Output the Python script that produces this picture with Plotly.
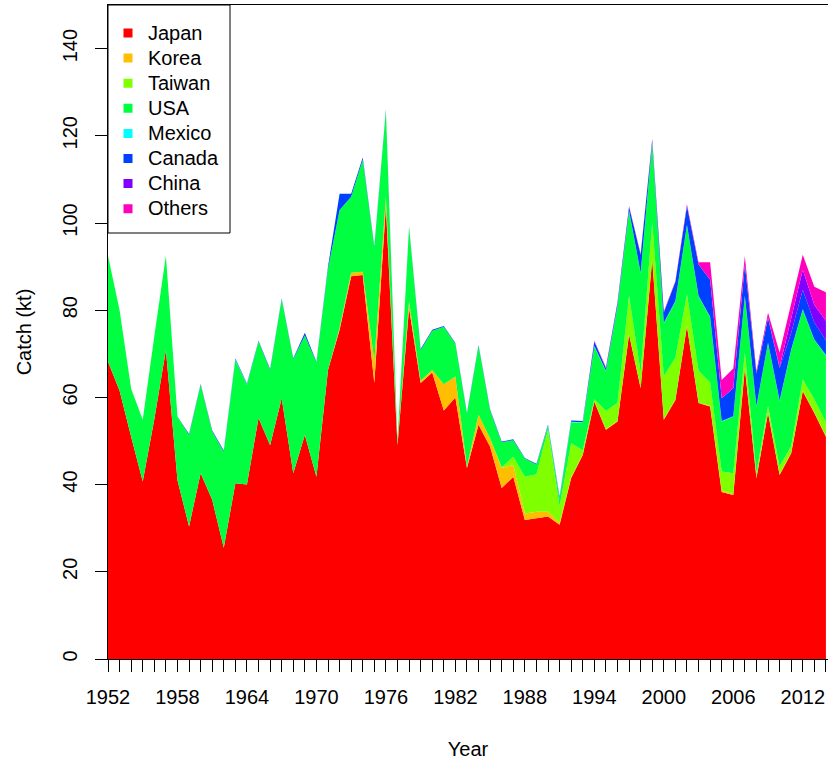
import plotly.graph_objects as go

years = list(range(1952, 2015))

japan = [68.2, 61.5, 51.0, 40.7, 55.0, 70.9, 41.0, 30.4, 42.6, 36.5,
         25.5, 40.3, 40.0, 55.3, 49.0, 59.8, 42.6, 51.4, 41.8, 66.3,
         75.5, 87.8, 88.1, 63.3, 103.8, 49.0, 80.5, 63.3, 65.7, 57.0,
         60.0, 43.8, 53.7, 48.7, 39.2, 41.8, 31.9, 32.3, 32.7, 30.8,
         41.5, 46.8, 59.0, 52.6, 54.5, 74.4, 62.1, 91.6, 54.9, 59.4,
         76.3, 58.7, 57.9, 38.3, 37.6, 66.7, 41.5, 56.4, 42.2, 47.2,
         61.4, 56.4, 51.0]

korea = [0, 0, 0, 0, 0, 0, 0, 0, 0, 0,
         0, 0, 0, 0, 0, 0, 0, 0, 0, 0,
         0.5, 0.8, 0.7, 5.0, 2.2, 0.3, 1.5, 0.5, 0.6, 6.0,
         4.8, 0.3, 2.3, 1.9, 4.6, 2.7, 1.5, 1.5, 1.1, 0.4,
         0.2, 0.1, 0.1, 0.1, 0.1, 0.1, 0.1, 0.1, 0.1, 0.1,
         0.1, 0.1, 0.1, 0.3, 0.2, 0.1, 0.1, 0.1, 0.1, 0.1,
         0.1, 0.1, 0.1]

taiwan = [0, 0, 0, 0, 0, 0, 0, 0, 0, 0,
          0, 0, 0, 0, 0, 0, 0, 0, 0, 0,
          0, 0, 0, 0, 0, 0, 0, 0, 0, 0,
          0, 0, 0, 0, 0.2, 1.9, 8.4, 8.6, 18.8, 3.8,
          7.8, 1.0, 0.5, 4.2, 4.2, 8.8, 3.5, 8.4, 9.9, 9.6,
          7.2, 7.3, 5.4, 4.4, 4.8, 3.5, 1.1, 1.5, 1.9, 1.5,
          2.6, 3.0, 3.2]

usa = [24.3, 18.5, 11.0, 14.2, 19.0, 21.6, 14.6, 21.0, 20.3, 15.7,
       22.1, 28.3, 22.9, 17.5, 17.3, 22.7, 26.2, 22.8, 26.2, 23.2,
       27.0, 17.4, 25.7, 26.0, 19.7, 0.5, 17.0, 7.0, 9.0, 13.2,
       7.5, 12.1, 15.8, 6.4, 5.7, 3.8, 4.2, 2.2, 0.8, 1.8,
       4.8, 6.3, 12.1, 9.1, 22.1, 19.4, 22.8, 18.2, 12.1, 12.9,
       15.9, 17.1, 15.0, 11.5, 13.0, 12.9, 15.2, 14.5, 15.0, 22.1,
       16.0, 13.7, 15.3]

mexico = [0, 0, 0, 0, 0, 0, 0, 0, 0, 0,
          0, 0.1, 0.1, 0, 0, 0, 0, 0, 0, 0,
          0, 0, 0, 0, 0, 0, 0, 0, 0, 0,
          0, 0, 0, 0, 0, 0, 0, 0, 0.1, 0.1,
          0.1, 0.1, 0.1, 0.1, 0.1, 0.1, 0.1, 0.1, 0.1, 0.1,
          0.1, 0.1, 0.1, 0.1, 0.1, 0.1, 0.1, 0.1, 0.1, 0.1,
          0.1, 0.1, 0.1]

canada = [0, 0, 0, 0, 0, 0, 0, 0.2, 0.2, 0.2,
          0.2, 0.2, 0.2, 0.2, 0.2, 0.2, 0.2, 0.6, 0.2, 0.5,
          3.7, 0.7, 0.5, 0.3, 0.3, 0.2, 0.2, 0.3, 0.2, 0.2,
          0.2, 0.2, 0.2, 0.2, 0.2, 0.2, 0.1, 0.2, 0.3, 0.3,
          0.3, 0.3, 1.0, 0.6, 0.7, 0.9, 4.1, 0.7, 2.4, 4.4,
          4.3, 7.2, 8.5, 5.2, 6.4, 7.1, 7.5, 5.6, 7.4, 3.8,
          4.5, 3.9, 3.4]

china = [0, 0, 0, 0, 0, 0, 0, 0, 0, 0,
         0, 0, 0, 0, 0, 0, 0, 0, 0, 0,
         0, 0, 0, 0, 0, 0, 0, 0, 0, 0,
         0, 0, 0, 0, 0, 0, 0, 0, 0, 0,
         0, 0, 0, 0, 0, 0, 0, 0, 0, 0,
         0, 0, 0, 0, 0, 0, 0, 0.1, 0.3, 3.0,
         4.6, 4.0, 4.5]

others = [0, 0, 0, 0, 0, 0, 0, 0, 0, 0,
          0, 0, 0, 0, 0, 0, 0, 0, 0, 0,
          0, 0, 0, 0, 0, 0, 0, 0, 0, 0,
          0, 0, 0, 0, 0, 0, 0, 0, 0, 0,
          0, 0, 0.2, 0.2, 0.2, 0.2, 0.2, 0.2, 0.2, 0.2,
          0.4, 0.5, 4.0, 4.2, 4.5, 2.0, 0.5, 1.1, 3.3, 3.8,
          3.4, 4.2, 6.5]

series_names = ["Japan", "Korea", "Taiwan", "USA", "Mexico", "Canada", "China", "Others"]
series_values = [japan, korea, taiwan, usa, mexico, canada, china, others]
colors = ["#FF0000", "#FFBF00", "#80FF00", "#00FF40", "#00FFFF", "#0040FF", "#8000FF", "#FF00BF"]

x_tick_labels = [str(y) for y in range(1952, 2013, 6)]
y_tick_labels = [str(v) for v in range(0, 141, 20)]

FONT = "Liberation Sans, Arial, sans-serif"

fig = go.Figure()
for name, vals, col in zip(series_names, series_values, colors):
    fig.add_trace(go.Scatter(
        x=years, y=vals, name=name, mode="lines",
        stackgroup="one", line=dict(width=0, color=col),
        fillcolor=col, showlegend=False, hoverinfo="skip"))

for name, col in zip(series_names, colors):
    fig.add_trace(go.Scatter(
        x=[None], y=[None], mode="markers",
        name="<span style='font-size:20px'>%s</span>" % name,
        marker=dict(symbol="square", size=9, color=col),
        showlegend=True, hoverinfo="skip"))

fig.update_layout(
    width=828, height=763,
    margin=dict(l=108, r=0, t=5, b=104),
    paper_bgcolor="white", plot_bgcolor="white",
    font=dict(family=FONT, size=20, color="black"),
    showlegend=True,
    legend=dict(x=0.0, y=0.984, xanchor="left", yanchor="top",
                bgcolor="rgba(0,0,0,0)", borderwidth=0,
                font=dict(family=FONT, size=17, color="black"),
                traceorder="normal"),
    xaxis=dict(range=[1952, 2014.18], showgrid=False, zeroline=False,
               showline=True, linecolor="black", linewidth=1, mirror=True,
               ticks="outside", ticklen=12, tickcolor="black", tickwidth=1,
               tickmode="array",
               tickvals=[int(t) for t in x_tick_labels], ticktext=x_tick_labels,
               minor=dict(dtick=1, tick0=1952, ticks="outside", ticklen=12,
                          tickcolor="black", tickwidth=1, showgrid=False),
               tickfont=dict(family=FONT, size=20, color="black"),
               ticklabelstandoff=8,
               title=dict(text="Year", font=dict(family=FONT, size=20, color="black"),
                          standoff=34)),
    yaxis=dict(range=[0, 150], showgrid=False, zeroline=False,
               showline=True, linecolor="black", linewidth=1,
               ticks="outside", ticklen=12, tickcolor="black", tickwidth=1,
               tickmode="array",
               tickvals=[int(t) for t in y_tick_labels], ticktext=y_tick_labels,
               tickangle=-90,
               tickfont=dict(family=FONT, size=20, color="black"),
               ticklabelstandoff=10,
               title=dict(text="Catch (kt)", font=dict(family=FONT, size=20, color="black"),
                          standoff=22)),
    shapes=[dict(type="rect", xref="paper", yref="paper",
                 x0=0, x1=(230 - 108) / 720, y0=(659 - 233) / 654, y1=1,
                 line=dict(color="black", width=1), fillcolor="rgba(0,0,0,0)",
                 layer="above")],
)

fig.write_html("out.html", config={"displayModeBar": False},
               post_script="document.body.style.margin='0px';")
